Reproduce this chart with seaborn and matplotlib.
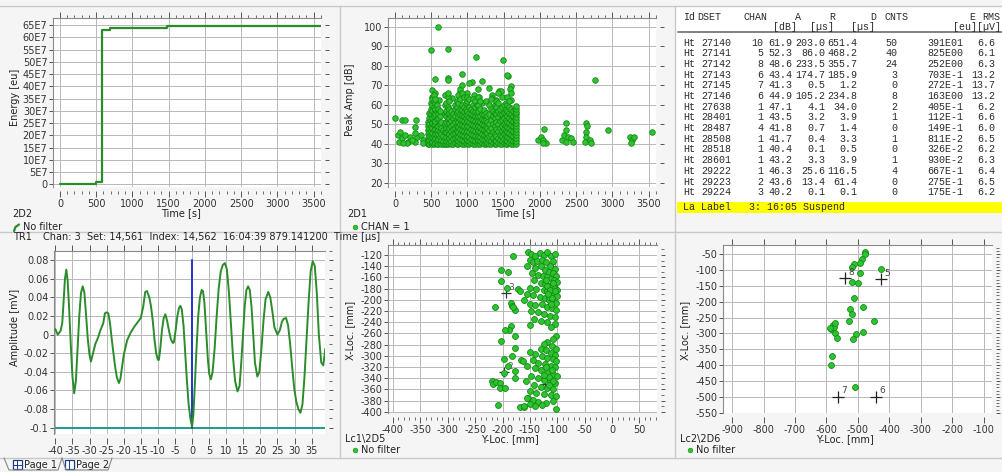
import matplotlib
matplotlib.use("Agg")
import numpy as np
import pandas as pd
import matplotlib.pyplot as plt
import seaborn as sns
from matplotlib.ticker import MultipleLocator, FuncFormatter
from matplotlib.lines import Line2D
from matplotlib.patches import Rectangle

# ---------------- DATA ----------------
# 2D2: cumulative energy vs time (step curve)
energy_time = [0, 496, 574, 689, 1470, 3600]
energy_e7 = [0.27, 0.95, 63.2, 63.9, 64.5, 64.5]

# 2D1: peak amplitude vs time (sparse hits)
amp_t_sparse = [5, 46, 69, 93, 139, 56, 93, 139, 185, 208, 278, 287, 278, 300, 278, 361, 380, 393, 231, 162, 116,
                593, 500, 731, 1111, 1491, 1565, 1551, 926, 556, 731, 727, 1065, 1194, 1019, 1296, 1435, 1468, 1597,
                1583, 509, 694, 995, 1088, 1157, 1333, 1343, 509, 556, 602, 787, 903, 1204, 1389, 1606,
                1968, 2014, 2060, 2037, 2083, 2046, 2306, 2338, 2361, 2361, 2384, 2430, 2454, 2352, 2639, 2648,
                2630, 2639, 2616, 2685, 2708, 2755, 2940, 3241, 3264, 3250, 3296, 3542]
amp_db_sparse = [53, 44.4, 46, 52, 52.3, 41, 42.7, 44.4, 41, 43.6, 41, 52.1, 48.7, 43.6, 45.3, 44.4, 41.9, 40.2, 42, 40.2, 40.2,
                 99.7, 88, 88.5, 84.6, 82.9, 74.7, 75.3, 75.7, 73, 73.5, 72.6, 71.8, 72.3, 71, 68.4, 67.2, 66.8, 69.6,
                 67.9, 67.5, 65, 65.8, 65, 64.1, 65, 63.3, 64, 65.8, 62.4, 63.3, 66.7, 60.7, 62.4, 62.4,
                 41.9, 43.6, 47.4, 41.9, 40.5, 40.2, 41.9, 44.4, 50.4, 47, 43.2, 42.7, 41, 41, 50.4, 49.2,
                 46.2, 43.6, 41, 41.9, 40.5, 72.6, 47, 43.2, 41.9, 40.5, 43.6, 46.2]

# 2D1: dense hit block 450..1690 s, read column by column
dense_col_time = [455, 475, 495, 515, 535, 555, 575, 595, 615, 640, 665, 690, 710, 730, 750,
                  775, 800, 825, 850, 875, 900, 925, 950, 975, 1000, 1025, 1050, 1075, 1100, 1125,
                  1150, 1175, 1200, 1225, 1250, 1275, 1300, 1325, 1350, 1375, 1400, 1425, 1450, 1475,
                  1500, 1525, 1550, 1575, 1600, 1625, 1650, 1675]
dense_col_db = [
    [40, 41.5, 43, 45, 47, 49, 51],
    [40, 42, 44, 46, 48, 50, 53, 56],
    [40.5, 42.5, 44.5, 46.5, 49, 52, 55, 58, 61],
    [40, 41, 43.5, 45.5, 48, 50.5, 53, 57, 60, 63],
    [40, 42, 44, 47, 49.5, 52, 54, 56, 59, 62, 65],
    [40.5, 43, 45, 47.5, 50, 51.5, 55, 58, 61, 63],
    [40, 41.5, 44, 46, 48.5, 52.5, 56.5, 60],
    [40, 42.5, 45, 47, 49, 53, 55, 58],
    [40.5, 43.5, 46, 50, 54, 57],
    [40, 42, 45, 48, 51],
    [40, 41.5, 44, 47],
    [40, 42.5, 46, 50, 55, 60],
    [40, 41.5, 43.5, 46, 48, 51, 54, 57, 61],
    [40, 42, 44.5, 47, 49.5, 52, 55, 59, 64, 66],
    [40.5, 43, 45, 48, 50.5, 53, 56, 58, 62],
    [40, 41.5, 44, 46.5, 49, 51.5, 54, 57],
    [40, 42.5, 45, 47.5, 50, 53, 55.5],
    [40.5, 43, 45.5, 48, 51, 54, 58, 60],
    [40, 42, 44, 46.5, 49, 52, 56, 59, 62],
    [40, 41.5, 43.5, 46, 48.5, 51, 53.5, 57, 61, 65],
    [40.5, 42.5, 45, 47.5, 50, 52.5, 55, 58, 63, 68],
    [40, 42, 44.5, 47, 49.5, 52, 54.5, 57.5, 60, 66, 70],
    [40, 41.5, 44, 46.5, 49, 51.5, 54, 56.5, 59, 64],
    [40.5, 43, 45.5, 48, 50.5, 53, 55.5, 58, 61],
    [40, 42, 44, 46.5, 49, 51.5, 54.5, 57, 62, 64],
    [40, 41.5, 43.5, 46, 48.5, 51, 53.5, 56, 59, 63],
    [40.5, 42.5, 45, 47.5, 50, 52.5, 55, 58],
    [40, 42, 44.5, 47, 49.5, 52, 54.5, 57, 60, 63],
    [40, 41.5, 44, 46.5, 49, 51.5, 54, 56.5, 59, 62],
    [40.5, 43, 45.5, 48, 50.5, 53, 56, 60],
    [40, 42, 44, 46.5, 49, 51.5, 54, 57, 60, 64, 68],
    [40, 41.5, 43.5, 46, 48.5, 51, 54, 58, 62],
    [40.5, 42.5, 45, 47.5, 50, 52.5, 55],
    [40, 42, 44.5, 47, 49.5, 52, 55, 57.5],
    [40, 41.5, 44, 46.5, 49, 52, 56, 62],
    [40.5, 43, 45.5, 48, 51, 54],
    [40, 42, 44, 47, 50, 55, 60],
    [40, 41.5, 44.5, 48, 52, 58, 63],
    [40.5, 43, 46, 50, 54, 57],
    [40, 42, 45, 49, 53, 56, 60],
    [40, 41.5, 44, 47.5, 51, 55, 59, 62],
    [40.5, 43, 46.5, 50, 53.5, 57, 61, 66],
    [40, 42, 44.5, 48, 51.5, 55, 58],
    [40, 41.5, 44, 46.5, 49, 52, 55.5, 59, 64],
    [40.5, 42.5, 45, 47.5, 50, 53, 56, 60],
    [40, 42, 44.5, 47, 49.5, 52, 55, 58, 61],
    [40, 41.5, 43.5, 46, 48.5, 51, 54, 57, 60, 64],
    [40.5, 43, 45.5, 48, 50.5, 53, 56, 59, 62],
    [40, 42, 44.5, 47, 49.5, 52, 55, 58, 66],
    [40, 41.5, 44, 46.5, 49, 51.5, 54, 57],
    [40.5, 42.5, 45, 47.5, 50, 52.5, 55, 58],
    [40, 41.5, 43, 44.5, 46, 47.5, 49, 50.5, 52, 53.5, 55, 56.5, 58, 59.5],
]

# Table of hits
tbl_id = ["Ht"] * 15
tbl_dset = ["27140", "27141", "27142", "27143", "27145", "27146", "27638", "28401", "28487",
            "28508", "28518", "28601", "29222", "29223", "29224"]
tbl_chan = ["10", "5", "8", "6", "7", "6", "1", "1", "4", "1", "1", "1", "1", "2", "3"]
tbl_a = ["61.9", "52.3", "48.6", "43.4", "41.3", "44.9", "47.1", "43.5", "41.8", "41.7", "40.4", "43.2", "46.3", "43.6", "40.2"]
tbl_r = ["203.0", "86.0", "233.5", "174.7", "0.5", "105.2", "4.1", "3.2", "0.7", "0.4", "0.1", "3.3", "25.6", "13.4", "0.1"]
tbl_d = ["651.4", "468.2", "355.7", "185.9", "1.2", "234.8", "34.0", "3.9", "1.4", "3.3", "0.5", "3.9", "116.5", "61.4", "0.1"]
tbl_cnts = ["50", "40", "24", "3", "0", "8", "2", "1", "0", "1", "0", "1", "4", "0", "0"]
tbl_e = ["391E01", "825E00", "252E00", "703E-1", "272E-1", "163E00", "405E-1", "112E-1", "149E-1",
         "811E-2", "326E-2", "930E-2", "667E-1", "275E-1", "175E-1"]
tbl_rms = ["6.6", "6.1", "6.3", "13.2", "13.7", "13.2", "6.2", "6.6", "6.0", "6.5", "6.2", "6.3", "6.4", "6.5", "6.2"]
tbl_label = "La Label   3: 16:05 Suspend"

# TR1 waveform
wave_t = [-40, -39.3, -38.5, -38.0, -37.6, -37.2, -36.8, -36.4, -36.0, -35.5,
          -35.0, -34.5, -34.0, -33.5, -33.0, -32.5, -32.0, -31.5, -31.0, -30.5,
          -30.0, -29.6, -29.0, -28.3, -27.5, -26.8, -26.0, -25.5, -25.0, -24.5,
          -24.0, -23.5, -23.0, -22.5, -22.0, -21.4, -21.0, -20.5, -20.0, -19.0,
          -18.0, -17.0, -16.0, -15.0, -14.3, -13.7, -13.2, -12.5, -12.0, -11.5,
          -11.0, -10.5, -10.0, -9.7, -9.3, -8.8, -8.3, -7.8, -7.3, -6.8,
          -6.2, -5.6, -5.3, -4.8, -4.3, -3.8, -3.4, -3.0, -2.5, -2.0,
          -1.5, -1.0, -0.5, 0.0, 0.4, 0.8, 1.3, 1.8, 2.3, 2.8,
          3.2, 3.6, 4.1, 4.6, 5.0, 5.5, 6.0, 6.6, 7.2, 7.8,
          8.4, 9.0, 9.6, 10.2, 10.8, 11.4, 12.0, 12.6, 13.3, 13.9,
          14.4, 14.9, 15.4, 15.9, 16.4, 16.9, 17.4, 17.9, 18.4, 19.1,
          19.7, 20.3, 20.9, 21.5, 22.3, 22.9, 23.5, 24.1, 25.0, 25.7,
          26.3, 26.8, 27.5, 28.1, 28.7, 29.3, 29.9, 30.5, 31.1, 31.7,
          32.3, 32.9, 33.5, 34.1, 34.7, 35.3, 35.9, 36.5, 37.1, 37.8,
          38.4, 39.0]
wave_mv = [0.006, 0.000, 0.004, 0.012, 0.035, 0.060, 0.070, 0.058, 0.030, -0.010,
           -0.045, -0.063, -0.050, -0.015, 0.020, 0.045, 0.052, 0.045, 0.020, -0.005,
           -0.022, -0.029, -0.020, -0.010, -0.003, 0.005, 0.012, 0.023, 0.024, 0.023,
           0.012, -0.005, -0.020, -0.035, -0.046, -0.052, -0.048, -0.035, -0.022, -0.006,
           0.002, 0.008, 0.013, 0.018, 0.030, 0.046, 0.047, 0.040, 0.030, 0.015,
           -0.005, -0.020, -0.027, -0.027, -0.015, 0.005, 0.018, 0.022, 0.015, 0.005,
           -0.005, -0.009, -0.008, 0.005, 0.020, 0.029, 0.031, 0.027, 0.010, -0.020,
           -0.050, -0.075, -0.090, -0.099, -0.085, -0.055, -0.015, 0.020, 0.040, 0.048,
           0.047, 0.035, 0.005, -0.025, -0.042, -0.048, -0.040, -0.015, 0.020, 0.050,
           0.068, 0.075, 0.077, 0.070, 0.045, 0.010, -0.025, -0.050, -0.061, -0.055,
           -0.030, 0.000, 0.030, 0.048, 0.052, 0.048, 0.030, 0.000, -0.030, -0.045,
           -0.040, -0.015, 0.015, 0.038, 0.046, 0.040, 0.025, 0.008, 0.000, 0.005,
           0.014, 0.017, 0.018, 0.010, -0.010, -0.035, -0.058, -0.072, -0.080, -0.084,
           -0.075, -0.045, -0.005, 0.035, 0.068, 0.079, 0.074, 0.045, 0.000, -0.030,
           -0.033, -0.015]
threshold_mv = -0.1
trigger_t = 0.0
trigger_top_mv = 0.08

# Lc1\2D5 location plot
loc1_y = [-180, -202, -190, -202, -192, -171, -168, -214, -185, -183, -178, -180, -184, -188, -195, -202,
          -178, -177, -182, -198, -190, -177, -178, -197, -219, -217, -211, -205, -204, -195, -209, -166,
          -162, -168, -160, -154,
          -153, -148, -140, -132, -125, -118, -112, -108, -105, -150, -145, -137, -128, -120, -113, -104,
          -155, -140, -130, -122, -115, -108, -102, -147, -135, -126, -118, -112, -106, -101, -142, -130,
          -122, -116, -110, -104, -100, -150, -138, -125, -118, -112, -106, -101, -155, -145, -132, -122,
          -115, -108, -102, -160, -150, -140, -128, -118, -110, -103, -148, -135, -125, -114, -105, -142,
          -130, -118, -104, -150, -112, -118, -113, -108, -115, -105, -120, -111, -117, -109,
          -102, -108, -118, -125, -110, -103, -130, -120, -112, -105, -140, -150, -128, -118, -108, -102,
          -145, -135, -122, -112, -104, -155, -140, -130, -118, -108, -101, -148, -136, -125, -113, -104,
          -158, -142, -130, -118, -108, -150, -138, -125, -112, -102, -155, -145, -135, -120, -108, -150,
          -140, -128, -103, -160, -115, -110, -107, -120, -115, -125]
loc1_x = [-122, -147, -150, -167, -179, -181, -184, -213, -205, -211, -218, -213, -247, -253, -254, -274,
          -264, -286, -300, -305, -318, -327, -339, -331, -345, -351, -347, -349, -357, -357, -388, -308,
          -309, -392, -392, -376,
          -115, -118, -122, -116, -120, -115, -122, -130, -118, -128, -133, -130, -128, -133, -140, -145,
          -140, -143, -140, -147, -150, -152, -158, -152, -155, -158, -160, -163, -165, -168, -165, -170,
          -172, -175, -177, -178, -182, -178, -180, -183, -185, -188, -190, -193, -190, -192, -195, -197,
          -200, -202, -205, -200, -207, -210, -207, -212, -215, -218, -220, -222, -225, -228, -230, -235,
          -238, -240, -243, -245, -248, -175, -183, -170, -195, -185, -165, -208, -190, -196,
          -265, -270, -275, -278, -283, -288, -288, -290, -294, -298, -296, -293, -300, -303, -306, -310,
          -308, -312, -315, -318, -320, -318, -322, -326, -330, -333, -336, -336, -340, -343, -345, -348,
          -345, -352, -355, -358, -360, -362, -366, -368, -370, -372, -375, -378, -382, -384, -380, -386,
          -390, -388, -394, -390, -338, -325, -345, -320, -352, -334]
sens1_y = [-123, -197, -194, -116]
sens1_x = [-350, -329, -188, -150]
sens1_lbl = ["1", "2", "3", "4"]

# Lc2\2D6 location plot
loc2_y = [-478, -476, -487, -494, -513, -517, -492, -519, -500, -426, -513, -482, -524, -519, -527, -450,
          -580, -584, -577, -574, -587, -572, -566, -505, -482, -515, -582, -585, -508]
loc2_x = [-42, -49, -66, -76, -82, -89, -108, -136, -142, -96, -189, -217, -223, -238, -259, -259,
          -273, -287, -279, -268, -284, -299, -315, -302, -295, -317, -371, -399, -470]
sens2_y = [-426, -441, -563, -540]
sens2_x = [-129, -499, -499, -126]
sens2_lbl = ["5", "6", "7", "8"]

# ---------------- FIGURE ----------------
W, H = 1003, 472
sns.set_theme(style="white")
plt.rcParams["font.family"] = ["DejaVu Sans"]
plt.rcParams["axes.unicode_minus"] = False

BG = "#f5f5f5"
fig = plt.figure(figsize=(W / 100, H / 100), dpi=100, facecolor=BG)


def rect(l, t, r, b):
    return [l / W, 1 - b / H, (r - l) / W, (b - t) / H]


def fx(x):
    return x / W


def fy(y):
    return 1 - y / H


def ftext(x, y, s, **kw):
    kw.setdefault("fontsize", 7)
    kw.setdefault("color", "#222222")
    kw.setdefault("va", "center")
    fig.text(fx(x), fy(y), s, **kw)


def fline(xs, ys, **kw):
    fig.add_artist(Line2D([fx(v) for v in xs], [fy(v) for v in ys], transform=fig.transFigure, **kw))


def style(ax, xmaj, xmin, ymaj, ymin):
    ax.set_facecolor("white")
    ax.xaxis.set_major_locator(MultipleLocator(xmaj))
    ax.xaxis.set_minor_locator(MultipleLocator(xmin))
    ax.yaxis.set_major_locator(MultipleLocator(ymaj))
    ax.yaxis.set_minor_locator(MultipleLocator(ymin))
    ax.grid(True, which="major", color="#b8b8b8", lw=0.7)
    ax.set_axisbelow(True)
    for s in ["left", "top", "bottom", "right"]:
        ax.spines[s].set_color("#8a8a8a")
        ax.spines[s].set_linewidth(0.8)
    ax.spines["bottom"].set_position(("outward", 3))
    ax.spines["bottom"].set_visible(False)
    ax.spines["right"].set_position(("outward", 3))
    ax.spines["right"].set_visible(False)
    ax.tick_params(axis="x", which="major", direction="out", length=4, width=0.7, color="#555555",
                   top=True, bottom=True, labelsize=7, pad=1.5, labelcolor="#333333")
    ax.tick_params(axis="x", which="minor", direction="out", length=2, width=0.6, color="#555555",
                   top=True, bottom=True)
    ax.tick_params(axis="y", which="major", direction="out", length=3, width=0.7, color="#555555",
                   left=True, right=True, labelleft=True, labelright=False, labelsize=7, pad=1,
                   labelcolor="#333333")
    ax.tick_params(axis="y", which="minor", direction="out", length=2, width=0.6, color="#555555",
                   left=False, right=True)
    ax.set_xlabel("")
    ax.set_ylabel("")


GREEN_LINE = "#2a8c2a"
DOT_FACE = "#2fc42f"
DOT_EDGE = "#128a16"

# panel separators / frames
fline([0, W], [6, 6], color="#c8c8c8", lw=1)
fline([340, 340], [6, 458], color="#c8c8c8", lw=1)
fline([675, 675], [6, 458], color="#c8c8c8", lw=1)
fline([0, W], [231.5, 231.5], color="#c8c8c8", lw=1)
fline([0, W], [457.5, 457.5], color="#c8c8c8", lw=1)

# ---- 2D2 energy ----
ax1 = fig.add_axes(rect(53, 18, 321, 187))
edf = pd.DataFrame({"t": energy_time, "e": np.array(energy_e7) * 1e7})
sns.lineplot(data=edf, x="t", y="e", ax=ax1, color=GREEN_LINE, lw=1.6, drawstyle="steps-post",
             estimator=None, sort=False, legend=False)
style(ax1, 500, 100, 5e7, 5e7)
ax1.set_xlim(-96, 3600)
ax1.set_ylim(-1.1e7, 67.9e7)
ax1.yaxis.set_major_formatter(FuncFormatter(lambda v, p: "0" if abs(v) < 1 else f"{int(round(v / 1e7))}E7"))
ax1.set_xlabel("")
ax1.set_ylabel("")
ftext(15, 97, "Energy [eu]", rotation=90, ha="center")
ftext(181, 213, "Time [s]", ha="center")
ftext(12, 214, "2D2", ha="left")
fline([14, 15.5, 19], [231, 227, 224.5], color=GREEN_LINE, lw=1.6)
ftext(23, 227, "No filter", ha="left")

# ---- 2D1 peak amplitude ----
ax2 = fig.add_axes(rect(388, 18, 656, 187))
d_t = [t for t, col in zip(dense_col_time, dense_col_db) for _ in col]
d_a = [a for col in dense_col_db for a in col]
adf = pd.DataFrame({"t": amp_t_sparse + d_t, "a": amp_db_sparse + d_a})
sns.scatterplot(data=adf, x="t", y="a", ax=ax2, s=16, color=DOT_FACE, edgecolor=DOT_EDGE,
                linewidth=0.6, legend=False, zorder=3)
style(ax2, 500, 100, 10, 10)
ax2.set_xlim(-96, 3600)
ax2.set_ylim(17.8, 104.5)
ax2.set_xlabel("")
ax2.set_ylabel("")
ftext(350, 100, "Peak Amp [dB]", rotation=90, ha="center")
ftext(515, 213, "Time [s]", ha="center")
ftext(347, 214, "2D1", ha="left")
fig.add_artist(Line2D([fx(355)], [fy(227)], marker="o", ms=3.4, color=DOT_FACE, mec=DOT_EDGE,
                      mew=0.4, transform=fig.transFigure))
ftext(361, 227, "CHAN = 1", ha="left")

# ---- Table ----
fig.add_artist(Rectangle((fx(676), fy(213)), (W - 676) / W, (213 - 7) / H, transform=fig.transFigure,
                         facecolor="white", edgecolor="none", zorder=0))
MONO = dict(family="Liberation Mono", fontsize=7.2, color="#2a2a2a", va="center")
hy, uy = 16.5, 27
ftext(683, hy, "Id", ha="left", **MONO)
ftext(697, hy, "DSET", ha="left", **MONO)
ftext(768, hy, "CHAN", ha="right", **MONO)
ftext(798, hy, "A", ha="center", **MONO)
ftext(832, hy, "R", ha="center", **MONO)
ftext(873, hy, "D", ha="center", **MONO)
ftext(909, hy, "CNTS", ha="right", **MONO)
ftext(975, hy, "E", ha="right", **MONO)
ftext(1000, hy, "RMS", ha="right", **MONO)
ftext(797, uy, "[dB]", ha="right", **MONO)
ftext(834, uy, "[µs]", ha="right", **MONO)
ftext(875, uy, "[µs]", ha="right", **MONO)
ftext(977, uy, "[eu]", ha="right", **MONO)
ftext(1001, uy, "[µV]", ha="right", **MONO)
fline([678, 1003], [32, 32], color="#777777", lw=1.3)
for i in range(len(tbl_dset)):
    y = 42.5 + i * 10.7
    ftext(683, y, tbl_id[i], ha="left", **MONO)
    ftext(701.5, y, tbl_dset[i], ha="left", **MONO)
    ftext(763, y, tbl_chan[i], ha="right", **MONO)
    ftext(792, y, tbl_a[i], ha="right", **MONO)
    ftext(825.5, y, tbl_r[i], ha="right", **MONO)
    ftext(857, y, tbl_d[i], ha="right", **MONO)
    ftext(897, y, tbl_cnts[i], ha="right", **MONO)
    ftext(963.5, y, tbl_e[i], ha="right", **MONO)
    ftext(995.5, y, tbl_rms[i], ha="right", **MONO)
fig.add_artist(Rectangle((fx(677), fy(213)), (W - 677) / W, 11.5 / H, transform=fig.transFigure,
                         facecolor="#ffff00", edgecolor="none", zorder=1))
ftext(683, 207.3, tbl_label, ha="left", zorder=2, **MONO)

# ---- TR1 waveform ----
ax3 = fig.add_axes(rect(54, 251, 325, 434))
wdf = pd.DataFrame({"t": wave_t, "mv": wave_mv})
ax3.axhline(threshold_mv, color="#1f9a8c", lw=1.4, zorder=2)
ax3.plot([trigger_t, trigger_t], [threshold_mv, trigger_top_mv], color="#2233cc", lw=1.4, zorder=2)
sns.lineplot(data=wdf, x="t", y="mv", ax=ax3, color=GREEN_LINE, lw=1.4, estimator=None, sort=False,
             legend=False, zorder=3)
style(ax3, 5, 5, 0.02, 0.01)
ax3.set_xlim(-40.4, 38.9)
ax3.set_ylim(-0.1068, 0.09)
ax3.yaxis.set_major_formatter(FuncFormatter(lambda v, p: "0" if abs(v) < 1e-9 else f"{v:g}"))
ax3.set_xlabel("")
ax3.set_ylabel("")
ftext(15, 327, "Amplitude [mV]", rotation=90, ha="center")
ftext(13, 237, "TR1", ha="left")
ftext(43, 237, "Chan: 3  Set: 14,561  Index: 14,562  16:04:39 879.141200  Time [µs]", ha="left")

# page tabs
fline([4, 9, 58, 62], [458, 470, 470, 458], color="#888888", lw=0.8)
fline([62, 66, 108, 112], [458, 470, 470, 458], color="#888888", lw=0.8)
for (x0, grid) in [(13, True), (65, False)]:
    fig.add_artist(Rectangle((fx(x0), fy(469)), 9 / W, 9 / H, transform=fig.transFigure,
                             facecolor="white", edgecolor="#1a3c8c", lw=0.9))
    if grid:
        fline([x0, x0 + 9], [464.5, 464.5], color="#1a3c8c", lw=0.7)
    fline([x0 + 4.5, x0 + 4.5], [460, 469], color="#1a3c8c", lw=0.7)
ftext(24, 464.5, "Page 1", ha="left")
ftext(76, 464.5, "Page 2", ha="left")

# ---- Lc1\2D5 ----
ax4 = fig.add_axes(rect(388, 245, 657, 413))
l1 = pd.DataFrame({"y": loc1_y, "x": loc1_x})
ax4.plot(sens1_y, sens1_x, ls="none", marker="+", ms=7, mew=0.9, color="#333333", zorder=2)
for sy, sx, lb in zip(sens1_y, sens1_x, sens1_lbl):
    ax4.annotate(lb, (sy, sx), xytext=(2, 2), textcoords="offset points", fontsize=6.5, color="#555555", zorder=2)
sns.scatterplot(data=l1, x="y", y="x", ax=ax4, s=18, color=DOT_FACE, edgecolor=DOT_EDGE,
                linewidth=0.6, legend=False, zorder=3)
style(ax4, 50, 10, 20, 10)
ax4.set_xlim(-409, 82)
ax4.set_ylim(-402, -102)
ax4.set_xlabel("")
ax4.set_ylabel("")
ftext(350, 330, "X-Loc. [mm]", rotation=90, ha="center")
ftext(510, 439, "Y-Loc. [mm]", ha="center")
ftext(345, 439, "Lc1\\2D5", ha="left")
fig.add_artist(Line2D([fx(355)], [fy(450)], marker="o", ms=3.4, color=DOT_FACE, mec=DOT_EDGE,
                      mew=0.4, transform=fig.transFigure))
ftext(361, 450, "No filter", ha="left")

# ---- Lc2\2D6 ----
ax5 = fig.add_axes(rect(723, 245, 992, 413))
l2 = pd.DataFrame({"y": loc2_y, "x": loc2_x})
sns.scatterplot(data=l2, x="y", y="x", ax=ax5, s=18, color=DOT_FACE, edgecolor=DOT_EDGE,
                linewidth=0.6, legend=False, zorder=3)
ax5.plot(sens2_y, sens2_x, ls="none", marker="+", ms=8, mew=0.9, color="#222222", zorder=4)
for sy, sx, lb in zip(sens2_y, sens2_x, sens2_lbl):
    ax5.annotate(lb, (sy, sx), xytext=(2, 2.5), textcoords="offset points", fontsize=6.5, color="#444444", zorder=4)
style(ax5, 100, 100, 50, 10)
ax5.set_xlim(-929, -73)
ax5.set_ylim(-551, -20.6)
ax5.set_xlabel("")
ax5.set_ylabel("")
ftext(685, 330, "X-Loc. [mm]", rotation=90, ha="center")
ftext(845, 439, "Y-Loc. [mm]", ha="center")
ftext(680, 439, "Lc2\\2D6", ha="left")
fig.add_artist(Line2D([fx(690)], [fy(450)], marker="o", ms=3.4, color=DOT_FACE, mec=DOT_EDGE,
                      mew=0.4, transform=fig.transFigure))
ftext(696, 450, "No filter", ha="left")

fig.savefig("out.png", dpi=100, facecolor=BG)
